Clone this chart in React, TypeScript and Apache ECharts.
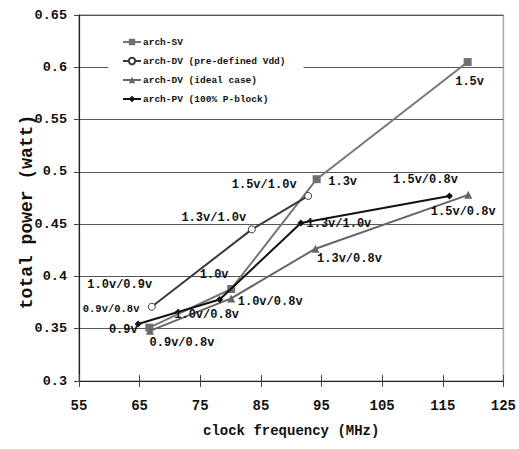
import React, { useEffect, useRef } from "react";
import * as echarts from "echarts";

const FONT = "'Liberation Mono', 'DejaVu Sans Mono', monospace";

const seriesNames = [
  "arch-SV",
  "arch-DV (pre-defined Vdd)",
  "arch-DV (ideal case)",
  "arch-PV (100% P-block)",
];

// clock frequency (MHz) / total power (watt)
const svFreq = [66.6, 80.1, 94.2, 119.1];
const svPower = [0.351, 0.388, 0.493, 0.605];
const svLabels = ["0.9v", "1.0v", "1.3v", "1.5v"];

const dvPreFreq = [67.0, 83.5, 92.8];
const dvPrePower = [0.371, 0.445, 0.477];
const dvPreLabels = ["1.0v/0.9v", "1.3v/1.0v", "1.5v/1.0v"];

const dvIdealFreq = [66.7, 80.1, 94.0, 119.2];
const dvIdealPower = [0.348, 0.379, 0.4265, 0.478];
const dvIdealLabels = ["0.9v/0.8v", "1.0v/0.8v", "1.3v/0.8v", "1.5v/0.8v"];

const pvFreq = [64.75, 78.2, 91.6, 116.1];
const pvPower = [0.3545, 0.378, 0.451, 0.477];
const pvLabels = ["0.9v/0.8v", "1.0v/0.8v", "1.3v/1.0v", "1.5v/0.8v"];

const xTicks = [55, 65, 75, 85, 95, 105, 115, 125];
const yTicks = [0.3, 0.35, 0.4, 0.45, 0.5, 0.55, 0.6, 0.65];

// label placement (pixel offsets from each point), layout only
const svOffsets = [[-26, 2], [-17, -14], [26, 3], [2, 20]];
const dvPreOffsets = [[-32, -22], [-38, -11], [-44, -11]];
const dvIdealOffsets = [[32, 12], [39, 4], [34, 10], [-5, 17]];
const pvOffsets = [[-27, -15], [-13, 16], [38, 1], [-24, -16]];
const pvSizes = [10.5, 12, 12, 12];

function build(freq: number[], power: number[], labels: string[], offsets: number[][], sizes?: number[]) {
  return freq.map((f, i) => ({
    value: [f, power[i]],
    label: {
      show: true,
      position: "inside",
      formatter: labels[i],
      offset: offsets[i],
      align: "center",
      verticalAlign: "middle",
      color: "#111",
      fontFamily: FONT,
      fontWeight: "bold",
      fontSize: sizes ? sizes[i] : 12,
    },
  }));
}

export default function App() {
  const ref = useRef<HTMLDivElement>(null);
  useEffect(() => {
    document.body.style.margin = "0";
    const chart = echarts.init(ref.current!, null, { renderer: "svg" });
    const grid = { left: 79, right: 14, top: 15, bottom: 68 };
    chart.setOption({
      animation: false,
      backgroundColor: "#fff",
      grid: { ...grid, show: true, borderColor: "#aaa", borderWidth: 1.5 },
      legend: {
        orient: "vertical",
        left: 108,
        top: 30,
        padding: [7, 18, 8, 14],
        backgroundColor: "#fff",
        itemWidth: 18,
        itemHeight: 8,
        itemGap: 9,
        data: seriesNames,
        textStyle: { fontFamily: FONT, fontWeight: "bold", fontSize: 9.5, color: "#111", padding: [0, 0, 0, -3] },
      },
      graphic: [
        {
          type: "text",
          x: 27,
          y: 212,
          rotation: Math.PI / 2,
          style: {
            text: "total power (watt)",
            font: `bold 18px ${FONT}`,
            fill: "#111",
            align: "center",
            verticalAlign: "middle",
          },
        },
      ],
      xAxis: [
        {
          type: "value",
          min: xTicks[0],
          max: xTicks[xTicks.length - 1],
          interval: 10,
          name: "clock frequency (MHz)",
          nameLocation: "middle",
          nameGap: 43,
          nameTextStyle: { fontFamily: FONT, fontWeight: "bold", fontSize: 14, color: "#111" },
          axisLine: { lineStyle: { color: "#222", width: 1.2 } },
          axisTick: { show: true, inside: false, length: 6, lineStyle: { color: "#444" } },
          axisLabel: { margin: 18, fontFamily: FONT, fontWeight: "bold", fontSize: 14, color: "#111" },
          splitLine: { show: false },
        },
        {
          type: "value",
          position: "bottom",
          min: xTicks[0],
          max: xTicks[xTicks.length - 1],
          interval: 10,
          axisLine: { show: false },
          axisTick: { show: true, inside: true, length: 6, lineStyle: { color: "#444" } },
          axisLabel: { show: false },
          splitLine: { show: false },
        },
      ],
      yAxis: {
        type: "value",
        min: yTicks[0],
        max: yTicks[yTicks.length - 1],
        interval: 0.05,
        axisLine: { show: true, lineStyle: { color: "#222", width: 1.2 } },
        axisTick: { show: true, length: 5, lineStyle: { color: "#444" } },
        axisLabel: {
          margin: 12,
          fontFamily: FONT,
          fontWeight: "bold",
          fontSize: 13.5,
          color: "#111",
          formatter: (v: number) => String(Math.round(v * 100) / 100),
        },
        splitLine: { show: true, lineStyle: { color: "#555", width: 1 } },
      },
      series: [
        {
          name: seriesNames[0],
          type: "line",
          symbol: "rect",
          symbolSize: 8,
          lineStyle: { color: "#777", width: 2 },
          itemStyle: { color: "#707070" },
          data: build(svFreq, svPower, svLabels, svOffsets),
          z: 3,
        },
        {
          name: seriesNames[1],
          type: "line",
          symbol: "circle",
          symbolSize: 7,
          lineStyle: { color: "#3a3a3a", width: 2 },
          itemStyle: { color: "#fff", borderColor: "#3a3a3a", borderWidth: 1 },
          data: build(dvPreFreq, dvPrePower, dvPreLabels, dvPreOffsets),
          z: 4,
        },
        {
          name: seriesNames[2],
          type: "line",
          symbol: "triangle",
          symbolSize: 8,
          lineStyle: { color: "#666", width: 2 },
          itemStyle: { color: "#666" },
          data: build(dvIdealFreq, dvIdealPower, dvIdealLabels, dvIdealOffsets),
          z: 3,
        },
        {
          name: seriesNames[3],
          type: "line",
          symbol: "diamond",
          symbolSize: 7,
          lineStyle: { color: "#111", width: 2 },
          itemStyle: { color: "#111" },
          data: build(pvFreq, pvPower, pvLabels, pvOffsets, pvSizes),
          z: 5,
        },
      ],
    });
    return () => chart.dispose();
  }, []);
  return <div ref={ref} style={{ width: 519, height: 449 }} />;
}
